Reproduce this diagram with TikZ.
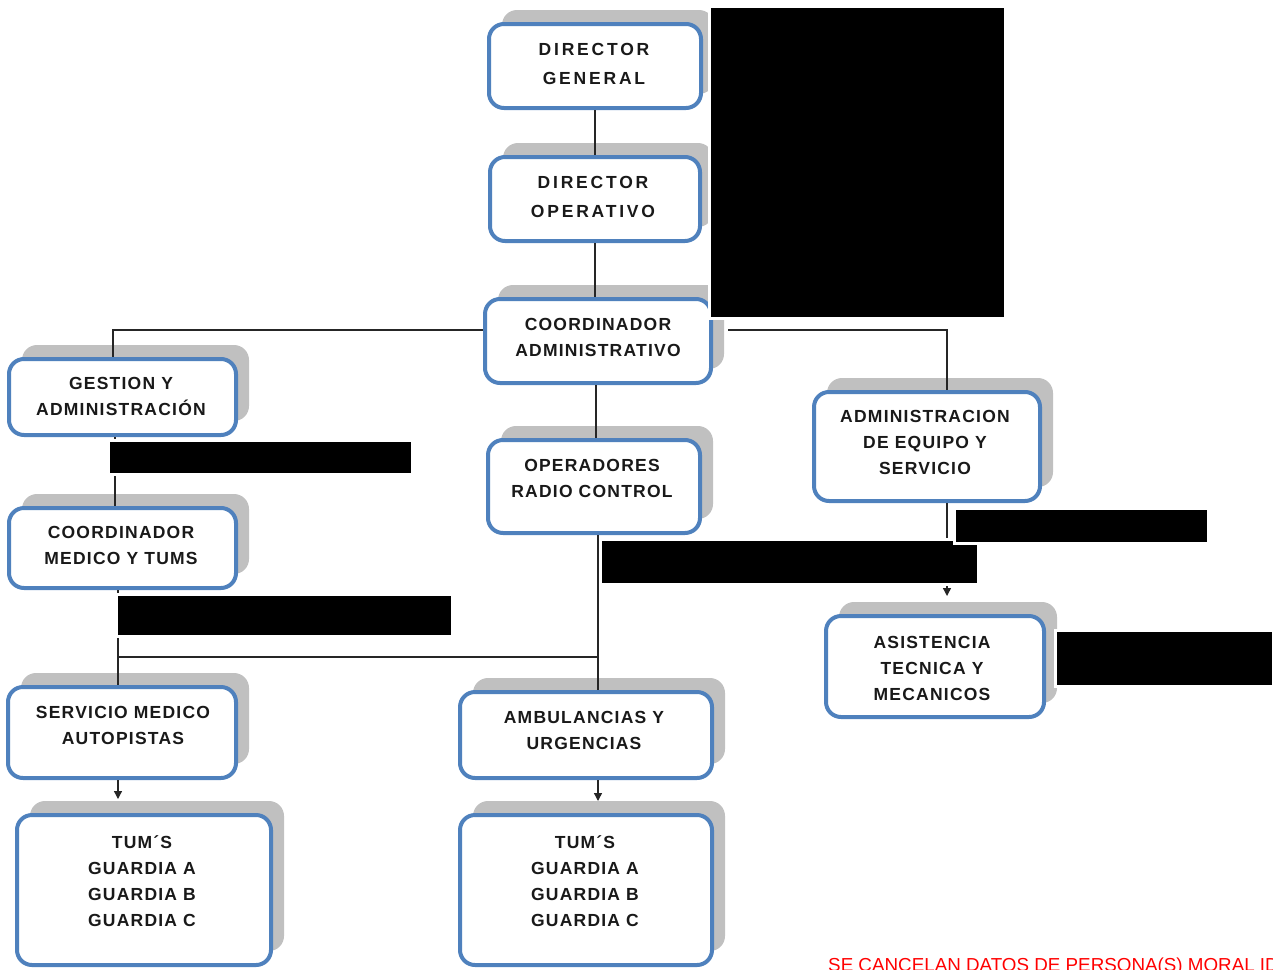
\documentclass[tikz,border=0pt]{standalone}
\usepackage{fontspec}
\newfontfamily\boxfont[LetterSpace=7]{Liberation Sans}
\newfontfamily\boxfontwide[LetterSpace=16]{Liberation Sans}
\newfontfamily\notefont{Liberation Sans}
\usetikzlibrary{shadows,arrows.meta}
\definecolor{boxblue}{HTML}{4F81BD}
\definecolor{shadowgray}{HTML}{C0C0C0}
\newcommand{\myredact}[4]{%
  \fill[white] (#1-3,#2-3) rectangle (#3+3,#4+3);
  \fill[black] (#1,#2) rectangle (#3,#4);}
\begin{document}
\begin{tikzpicture}[x=1pt,y=-1pt,
  orgbox/.style={rectangle, draw=boxblue, line width=4pt, fill=white,
    rounded corners=15pt, inner sep=0pt,
    general shadow={fill=shadowgray, shadow xshift=13pt, shadow yshift=14pt}},
  txt/.style={font=\boxfont\bfseries\fontsize{17.5}{26}\selectfont,
    align=center, inner sep=0pt, text=black!90},
  txtwide/.style={font=\boxfontwide\bfseries\fontsize{17.5}{29}\selectfont,
    align=center, inner sep=0pt, text=black!90},
  link/.style={draw=black!85, line width=1.3pt},
  arr/.style={link, -{Triangle[length=8pt,width=8pt]}}]
\useasboundingbox (0,0) rectangle (1273,969);

% boxes
\node[orgbox, minimum width=212pt, minimum height=84pt] (dg) at (595,66) {};
\node[orgbox, minimum width=210pt, minimum height=84pt] (do) at (595,199) {};
\node[orgbox, minimum width=226pt, minimum height=84pt] (ca) at (598,341) {};
\node[orgbox, minimum width=227pt, minimum height=76pt] (gest) at (122.5,397) {};
\node[orgbox, minimum width=227pt, minimum height=80pt] (cmed) at (122.5,548) {};
\node[orgbox, minimum width=212pt, minimum height=93pt] (oper) at (594,486.5) {};
\node[orgbox, minimum width=226pt, minimum height=109pt] (adm) at (927,446.5) {};
\node[orgbox, minimum width=218pt, minimum height=101pt] (asis) at (935,666.5) {};
\node[orgbox, minimum width=228pt, minimum height=91pt] (sma) at (122,732.5) {};
\node[orgbox, minimum width=252pt, minimum height=86pt] (amb) at (586,735) {};
\node[orgbox, minimum width=254pt, minimum height=150pt] (tuml) at (144,890) {};
\node[orgbox, minimum width=252pt, minimum height=150pt] (tumr) at (586,890) {};

% texts
\node[txtwide] (dg-t) at (594,64) {DIRECTOR\\GENERAL};
\node[txtwide] (do-t) at (593,197) {DIRECTOR\\OPERATIVO};
\node[txt] (ca-t) at (598,337) {COORDINADOR\\ADMINISTRATIVO};
\node[txt] (gest-t) at (121,396) {GESTION Y\\ADMINISTRACIÓN};
\node[txt] (cmed-t) at (121,545) {COORDINADOR\\MEDICO Y TUMS};
\node[txt] (oper-t) at (592,478) {OPERADORES\\RADIO CONTROL};
\node[txt] (adm-t) at (925,442) {ADMINISTRACION\\DE EQUIPO Y\\SERVICIO};
\node[txt] (asis-t) at (932,668) {ASISTENCIA\\TECNICA Y\\MECANICOS};
\node[txt] (sma-t) at (123,725) {SERVICIO MEDICO\\AUTOPISTAS};
\node[txt] (amb-t) at (584,730) {AMBULANCIAS Y\\URGENCIAS};
\node[txt] (tuml-t) at (142,881) {TUM´S\\GUARDIA A\\GUARDIA B\\GUARDIA C};
\node[txt] (tumr-t) at (585,881) {TUM´S\\GUARDIA A\\GUARDIA B\\GUARDIA C};

% connectors
\draw[link] (dg.south) -- (dg.south |- do.north);
\draw[link] (do.south) -- (do.south |- ca.north);
\draw[link] ([yshift=11pt]ca.west) -| ([xshift=-9.5pt]gest.north);
\draw[link] ([yshift=11pt,xshift=15pt]ca.east) -| ([xshift=20pt]adm.north);
\draw[link] ([xshift=-2pt]ca.south) -- ([xshift=-2pt]ca.south |- oper.north);
\draw[link] ([xshift=-7.5pt]gest.south) -- ([xshift=-7.5pt]gest.south |- cmed.north);
\draw[link] ([xshift=4pt]oper.south) -- ([xshift=4pt]oper.south |- amb.north);
\coordinate (jn) at (598,657);
\draw[link] (jn) -| ([xshift=-4pt]sma.north);
\draw[link] ([xshift=-4.5pt]cmed.south) -- ([xshift=-4.5pt]cmed.south |- sma.north);
\draw[arr, shorten >=14pt] ([xshift=-4pt]sma.south) -- ([xshift=-4pt]sma.south |- tuml.north);
\draw[arr, shorten >=12pt] ([xshift=12pt]amb.south) -- ([xshift=12pt]amb.south |- tumr.north);
\draw[arr, shorten >=18pt] ([xshift=20pt]adm.south) -- ([xshift=20pt]adm.south |- asis.north);

% redactions
\myredact{711}{8}{1004}{317}
\myredact{110}{442}{411}{473}
\myredact{602}{541}{977}{583}
\myredact{956}{510}{1207}{542}
\myredact{118}{596}{451}{635}
\myredact{1057}{632}{1272}{685}

% note
\node[anchor=base west, text=red, inner sep=0pt,
  font=\notefont\fontsize{18.8}{20}\selectfont] (note) at (828,971)
  {SE CANCELAN DATOS DE PERSONA(S) MORAL ID};
\end{tikzpicture}
\end{document}
